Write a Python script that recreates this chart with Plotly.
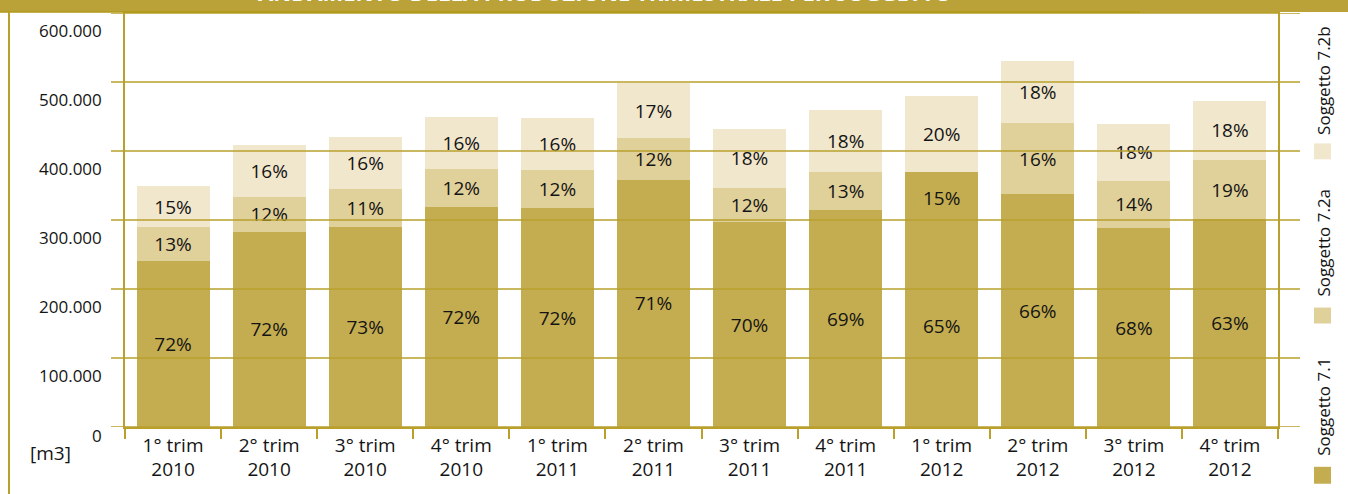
import plotly.graph_objects as go

# ---------------- data ----------------
categories = ["1° trim<br>2010", "2° trim<br>2010", "3° trim<br>2010", "4° trim<br>2010",
              "1° trim<br>2011", "2° trim<br>2011", "3° trim<br>2011", "4° trim<br>2011",
              "1° trim<br>2012", "2° trim<br>2012", "3° trim<br>2012", "4° trim<br>2012"]

sogg_71 = [240000, 283000, 290000, 319000, 317000, 358000, 297000, 314000, 294000, 337000, 288000, 301000]
sogg_72a = [50000, 50000, 55000, 55000, 56000, 61000, 50000, 55000, 75000, 104000, 69000, 86000]
sogg_72b = [59000, 75000, 75000, 75000, 75000, 79000, 85000, 91000, 111000, 89000, 82000, 86000]

pct_71 = ["72%", "72%", "73%", "72%", "72%", "71%", "70%", "69%", "65%", "66%", "68%", "63%"]
pct_72a = ["13%", "12%", "11%", "12%", "12%", "12%", "12%", "13%", "15%", "16%", "14%", "19%"]
pct_72b = ["15%", "16%", "16%", "16%", "16%", "17%", "18%", "18%", "20%", "18%", "18%", "18%"]

y_ticks = [0, 100000, 200000, 300000, 400000, 500000, 600000]
y_tick_labels = ["0", "100.000", "200.000", "300.000", "400.000", "500.000", "600.000"]

series_names = ["Soggetto 7.1", "Soggetto 7.2a", "Soggetto 7.2b"]
title_text = "ANDAMENTO DELLA PRODUZIONE TRIMESTRALE PER SOGGETTO"
unit_label = "[m3]"

# ---------------- style ----------------
W, H = 1348, 494
ML, MR, MT, MB = 125, 70, 11, 67
PW, PH = W - ML - MR, H - MT - MB

C_71 = "#C4AD50"
C_72A = "#E0D09A"
C_72B = "#F1E7CD"
GOLD = "#B9A02C"
BAND = "#BBA238"
FONT = "Open Sans"
TXT = "#141414"


def px2x(px):
    return (px - ML) / PW


def px2y(py):
    return (H - MB - py) / PH


colors_72a = [C_72A] * len(categories)
colors_72a[8] = C_71  # segment drawn in the darker tone in the original

fig = go.Figure()
for vals, txt, col, name in [
    (sogg_71, pct_71, C_71, series_names[0]),
    (sogg_72a, pct_72a, colors_72a, series_names[1]),
    (sogg_72b, pct_72b, C_72B, series_names[2]),
]:
    fig.add_trace(go.Bar(
        x=categories, y=vals, name=name, text=txt,
        marker=dict(color=col, line=dict(width=0)),
        textposition="inside", insidetextanchor="middle", textangle=0,
        textfont=dict(family=FONT, size=19, color=TXT),
        constraintext="none", showlegend=False,
    ))

shapes = []
# top band
shapes.append(dict(type="rect", xref="paper", yref="paper",
                   x0=px2x(0), x1=px2x(W), y0=px2y(10), y1=px2y(-5),
                   fillcolor=BAND, line=dict(width=0), layer="above"))
shapes.append(dict(type="line", xref="paper", yref="paper",
                   x0=px2x(0), x1=px2x(1140), y0=px2y(10), y1=px2y(10),
                   line=dict(color="#B09818", width=1.5), layer="above"))
# left frame line
shapes.append(dict(type="line", xref="paper", yref="paper",
                   x0=px2x(9), x1=px2x(9), y0=px2y(10), y1=px2y(H + 5),
                   line=dict(color=GOLD, width=2), layer="above"))
# grid lines drawn above the bars, extending past both axes
for v in y_ticks:
    shapes.append(dict(type="line", xref="paper", yref="y",
                       x0=px2x(111), x1=px2x(1300), y0=v, y1=v,
                       line=dict(color=GOLD, width=1.4), layer="above"))

# legend swatches
legend_sq = [(467, 484), (307, 323), (142, 158)]
legend_txt_bottom = [458, 298, 136]
for (t, b), col in zip(legend_sq, [C_71, C_72A, C_72B]):
    shapes.append(dict(type="rect", xref="paper", yref="paper",
                       x0=px2x(1314), x1=px2x(1331), y0=px2y(b), y1=px2y(t),
                       fillcolor=col, line=dict(width=0)))

annotations = []
for v, lab in zip(y_ticks, y_tick_labels):
    annotations.append(dict(xref="paper", yref="y", x=0, y=v, text=lab,
                            xanchor="right", yanchor="middle", xshift=-21,
                            yshift=(-17 if v > 0 else -8), showarrow=False,
                            font=dict(family=FONT, size=17, color=TXT)))
annotations.append(dict(xref="paper", yref="paper", x=px2x(50), y=px2y(453),
                        text=unit_label, xanchor="center", yanchor="middle",
                        showarrow=False, font=dict(family=FONT, size=19, color=TXT)))
for name, bottom in zip(series_names, legend_txt_bottom):
    annotations.append(dict(xref="paper", yref="paper", x=px2x(1324), y=px2y(bottom),
                            text=name, textangle=-90, xanchor="center", yanchor="bottom",
                            showarrow=False, font=dict(family=FONT, size=17, color=TXT)))
annotations.append(dict(xref="paper", yref="paper", x=px2x(605), y=px2y(7),
                        text="<b>" + title_text + "</b>", xanchor="center", yanchor="bottom",
                        showarrow=False, font=dict(family=FONT, size=22, color="white")))

fig.update_layout(
    width=W, height=H, autosize=False,
    margin=dict(l=ML, r=MR, t=MT, b=MB, pad=0),
    paper_bgcolor="white", plot_bgcolor="white",
    barmode="stack", bargap=0.24,
    font=dict(family=FONT, size=19, color=TXT),
    shapes=shapes, annotations=annotations,
    xaxis=dict(showgrid=False, showline=True, linecolor=GOLD, linewidth=1.5, mirror=True,
               ticks="outside", tickson="boundaries", ticklen=10, tickcolor=GOLD, tickwidth=1.5,
               tickfont=dict(family=FONT, size=19, color=TXT), zeroline=False),
    yaxis=dict(range=[0, 600000], showgrid=False, showline=True, linecolor=GOLD, linewidth=1.5,
               mirror=True, showticklabels=False, ticks="", zeroline=False),
)

fig.write_html("out.html")
